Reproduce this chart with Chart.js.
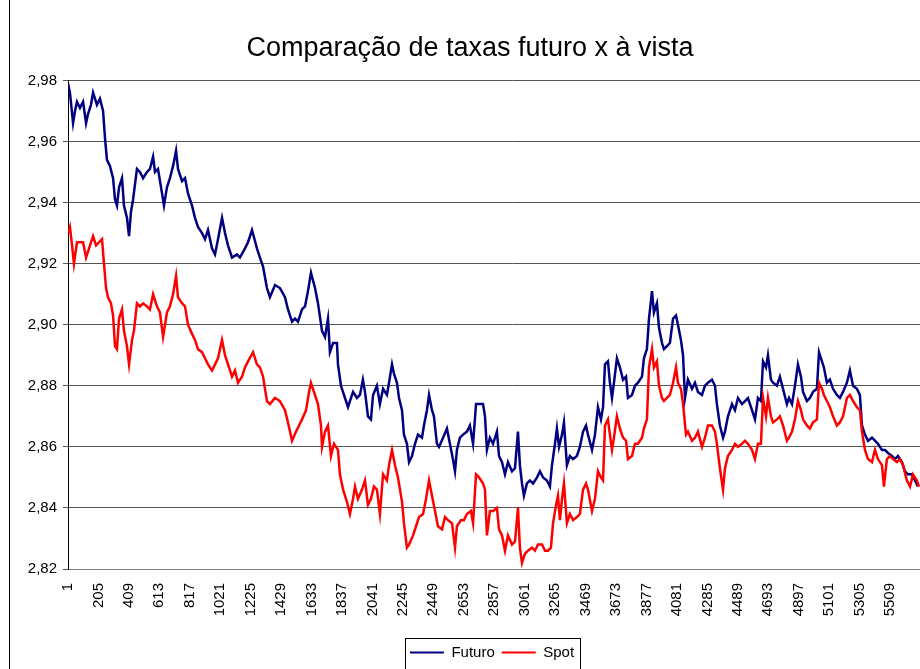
<!DOCTYPE html>
<html>
<head>
<meta charset="utf-8">
<script src="https://cdn.jsdelivr.net/npm/chart.js@4.4.1/dist/chart.umd.min.js"></script>
<style>
  html, body { margin: 0; padding: 0; background: #fff; overflow: hidden; }
  body { width: 920px; height: 669px; position: relative; }
  #wrap { position: absolute; left: 0; top: 0; width: 956px; height: 700px; }
  #frame { position: absolute; left: 9px; top: 0; width: 0; height: 669px; border-left: 1px solid #000; }
</style>
</head>
<body>
<div id="wrap"><canvas id="chart"></canvas></div>
<div id="frame"></div>
<script>
const futuroIdx = [1, 14, 35, 48, 61, 81, 102, 122, 135, 155, 169, 195, 215, 236, 249, 262, 282, 303, 316, 329,
  343, 363, 376, 396, 410, 423, 437, 463, 483, 504, 530, 550, 571, 584, 604, 631, 644, 664, 684, 705,
  725, 738, 765, 785, 805, 832, 852, 872, 899, 919, 939, 966, 986, 1006, 1033, 1053, 1073, 1100, 1133, 1153,
  1187, 1207, 1234, 1267, 1287, 1308, 1334, 1354, 1388, 1421, 1455, 1475, 1502, 1522, 1542, 1569, 1589, 1609, 1629, 1656,
  1676, 1703, 1723, 1743, 1756, 1777, 1803, 1810, 1830, 1857, 1877, 1890, 1911, 1937, 1957, 1977, 1991, 2011, 2031, 2045,
  2071, 2091, 2112, 2138, 2152, 2172, 2185, 2205, 2219, 2239, 2252, 2272, 2286, 2306, 2326, 2346, 2373, 2386, 2406, 2420,
  2440, 2453, 2473, 2487, 2514, 2540, 2560, 2580, 2594, 2607, 2627, 2648, 2674, 2694, 2715, 2735, 2755, 2782, 2795, 2808,
  2828, 2849, 2875, 2889, 2909, 2929, 2949, 2976, 2996, 3016, 3029, 3043, 3056, 3076, 3096, 3117, 3144, 3163, 3184, 3210,
  3230, 3244, 3264, 3277, 3291, 3311, 3324, 3344, 3364, 3385, 3411, 3431, 3452, 3472, 3485, 3512, 3532, 3552, 3572, 3586,
  3599, 3619, 3632, 3646, 3659, 3679, 3699, 3720, 3740, 3753, 3780, 3800, 3820, 3847, 3860, 3880, 3894, 3914, 3927, 3947,
  3961, 3981, 3994, 4014, 4034, 4055, 4075, 4088, 4108, 4122, 4135, 4155, 4182, 4202, 4222, 4249, 4269, 4289, 4316, 4336,
  4349, 4369, 4390, 4403, 4423, 4450, 4470, 4490, 4517, 4537, 4557, 4584, 4604, 4624, 4644, 4658, 4678, 4691, 4711, 4725,
  4751, 4771, 4792, 4818, 4832, 4852, 4872, 4892, 4912, 4926, 4952, 4972, 4993, 5019, 5033, 5053, 5066, 5086, 5106, 5127,
  5153, 5173, 5194, 5220, 5240, 5261, 5287, 5307, 5321, 5341, 5361, 5388, 5408, 5428, 5455, 5475, 5495, 5522, 5542, 5562,
  5589, 5609, 5629, 5656, 5676, 5696];
const futuroVal = [2.979, 2.976, 2.966, 2.970, 2.973, 2.971, 2.973, 2.966, 2.969, 2.972, 2.976, 2.972, 2.974, 2.970, 2.961, 2.954, 2.952, 2.948, 2.941, 2.939,
  2.945, 2.948, 2.939, 2.935, 2.929, 2.937, 2.941, 2.951, 2.950, 2.948, 2.950, 2.951, 2.955, 2.950, 2.951, 2.943, 2.939, 2.945, 2.948, 2.952,
  2.957, 2.951, 2.947, 2.948, 2.943, 2.939, 2.935, 2.932, 2.930, 2.928, 2.931, 2.925, 2.923, 2.928, 2.935, 2.930, 2.926, 2.922, 2.923, 2.922,
  2.925, 2.927, 2.931, 2.925, 2.922, 2.919, 2.912, 2.909, 2.913, 2.912, 2.909, 2.905, 2.901, 2.902, 2.901, 2.905, 2.906, 2.911, 2.917, 2.912,
  2.907, 2.898, 2.896, 2.902, 2.891, 2.894, 2.894, 2.887, 2.880, 2.876, 2.873, 2.875, 2.878, 2.876, 2.877, 2.882, 2.878, 2.870, 2.869, 2.877,
  2.880, 2.874, 2.879, 2.877, 2.881, 2.887, 2.884, 2.881, 2.876, 2.872, 2.864, 2.861, 2.855, 2.857, 2.861, 2.864, 2.863, 2.867, 2.872, 2.877,
  2.872, 2.870, 2.861, 2.860, 2.863, 2.866, 2.861, 2.856, 2.852, 2.859, 2.863, 2.864, 2.865, 2.867, 2.861, 2.874, 2.874, 2.874, 2.870, 2.859,
  2.863, 2.861, 2.865, 2.857, 2.855, 2.851, 2.855, 2.852, 2.853, 2.865, 2.854, 2.848, 2.844, 2.848, 2.849, 2.848, 2.850, 2.852, 2.850, 2.849,
  2.847, 2.854, 2.861, 2.866, 2.860, 2.864, 2.868, 2.854, 2.857, 2.856, 2.857, 2.860, 2.865, 2.867, 2.864, 2.859, 2.864, 2.873, 2.869, 2.873,
  2.887, 2.888, 2.881, 2.876, 2.881, 2.889, 2.886, 2.882, 2.883, 2.876, 2.877, 2.880, 2.881, 2.883, 2.889, 2.892, 2.902, 2.911, 2.904, 2.907,
  2.899, 2.894, 2.892, 2.893, 2.894, 2.902, 2.903, 2.900, 2.895, 2.890, 2.876, 2.882, 2.879, 2.881, 2.878, 2.877, 2.880, 2.881, 2.882, 2.880,
  2.874, 2.867, 2.863, 2.865, 2.870, 2.874, 2.872, 2.876, 2.874, 2.875, 2.876, 2.872, 2.869, 2.876, 2.875, 2.888, 2.886, 2.890, 2.882, 2.881,
  2.880, 2.883, 2.879, 2.874, 2.876, 2.874, 2.880, 2.887, 2.883, 2.878, 2.875, 2.876, 2.878, 2.879, 2.891, 2.888, 2.886, 2.881, 2.882, 2.879,
  2.877, 2.876, 2.878, 2.881, 2.885, 2.880, 2.879, 2.877, 2.867, 2.864, 2.862, 2.863, 2.862, 2.861, 2.859, 2.859, 2.858, 2.857, 2.856, 2.857,
  2.855, 2.852, 2.851, 2.851, 2.849, 2.847];

const spotIdx = [1, 14, 28, 41, 61, 81, 102, 122, 142, 169, 189, 209, 229, 242, 256, 269, 289, 303, 316, 329,
  343, 363, 376, 396, 410, 430, 443, 463, 483, 504, 530, 550, 571, 597, 617, 638, 664, 684, 705, 725,
  738, 765, 785, 805, 832, 852, 872, 899, 919, 939, 966, 986, 1006, 1033, 1053, 1073, 1100, 1120, 1140, 1167,
  1187, 1207, 1241, 1267, 1287, 1308, 1334, 1354, 1388, 1421, 1455, 1475, 1502, 1529, 1549, 1569, 1596, 1616, 1629, 1649,
  1676, 1696, 1703, 1723, 1743, 1763, 1783, 1810, 1823, 1844, 1870, 1890, 1911, 1924, 1944, 1971, 1991, 2011, 2031, 2051,
  2071, 2091, 2112, 2138, 2152, 2172, 2192, 2212, 2239, 2252, 2272, 2286, 2313, 2333, 2353, 2380, 2400, 2420, 2440, 2460,
  2480, 2507, 2527, 2547, 2574, 2594, 2607, 2634, 2654, 2674, 2701, 2715, 2735, 2755, 2782, 2795, 2808, 2828, 2849, 2875,
  2889, 2909, 2929, 2949, 2976, 2996, 3016, 3029, 3043, 3063, 3083, 3110, 3130, 3150, 3177, 3197, 3217, 3237, 3251, 3271,
  3284, 3297, 3311, 3324, 3344, 3364, 3385, 3411, 3431, 3452, 3472, 3485, 3512, 3532, 3552, 3572, 3586, 3599, 3619, 3632,
  3646, 3659, 3679, 3699, 3720, 3740, 3753, 3780, 3800, 3820, 3847, 3860, 3880, 3894, 3914, 3927, 3947, 3961, 3981, 3994,
  4014, 4034, 4055, 4075, 4088, 4108, 4122, 4142, 4155, 4182, 4202, 4222, 4249, 4269, 4289, 4316, 4336, 4349, 4369, 4390,
  4403, 4423, 4450, 4470, 4490, 4517, 4537, 4557, 4584, 4604, 4624, 4644, 4658, 4678, 4691, 4711, 4725, 4751, 4771, 4792,
  4818, 4832, 4852, 4872, 4892, 4912, 4926, 4952, 4972, 4993, 5019, 5033, 5053, 5066, 5086, 5106, 5127, 5153, 5173, 5194,
  5220, 5240, 5261, 5287, 5307, 5321, 5341, 5361, 5388, 5408, 5428, 5455, 5468, 5488, 5508, 5529, 5555, 5575, 5596, 5622,
  5643, 5663, 5689, 5703];
const spotVal = [2.930, 2.932, 2.926, 2.920, 2.927, 2.927, 2.927, 2.922, 2.925, 2.929, 2.926, 2.927, 2.928, 2.920, 2.912, 2.909, 2.907, 2.903, 2.893, 2.892,
  2.902, 2.905, 2.898, 2.893, 2.887, 2.895, 2.898, 2.907, 2.906, 2.907, 2.906, 2.905, 2.910, 2.906, 2.904, 2.896, 2.904, 2.906, 2.910, 2.916,
  2.909, 2.907, 2.906, 2.900, 2.897, 2.895, 2.892, 2.891, 2.889, 2.887, 2.885, 2.887, 2.889, 2.895, 2.890, 2.887, 2.883, 2.885, 2.881, 2.883,
  2.886, 2.888, 2.891, 2.887, 2.886, 2.883, 2.875, 2.874, 2.876, 2.875, 2.872, 2.868, 2.862, 2.865, 2.867, 2.869, 2.872, 2.878, 2.881, 2.878,
  2.874, 2.867, 2.860, 2.865, 2.867, 2.857, 2.861, 2.859, 2.851, 2.846, 2.842, 2.838, 2.843, 2.847, 2.843, 2.846, 2.849, 2.841, 2.843, 2.847,
  2.846, 2.838, 2.851, 2.849, 2.854, 2.859, 2.854, 2.850, 2.842, 2.835, 2.827, 2.828, 2.831, 2.834, 2.837, 2.838, 2.843, 2.849, 2.844, 2.839,
  2.834, 2.833, 2.837, 2.836, 2.835, 2.827, 2.834, 2.836, 2.836, 2.838, 2.839, 2.835, 2.851, 2.850, 2.848, 2.846, 2.831, 2.839, 2.839, 2.840,
  2.833, 2.831, 2.826, 2.831, 2.828, 2.829, 2.840, 2.827, 2.822, 2.825, 2.826, 2.827, 2.826, 2.828, 2.828, 2.826, 2.826, 2.827, 2.835, 2.841,
  2.844, 2.836, 2.843, 2.848, 2.835, 2.838, 2.836, 2.837, 2.838, 2.846, 2.848, 2.846, 2.839, 2.843, 2.852, 2.850, 2.849, 2.867, 2.869, 2.864,
  2.859, 2.863, 2.870, 2.866, 2.863, 2.862, 2.856, 2.857, 2.861, 2.861, 2.863, 2.866, 2.869, 2.886, 2.892, 2.886, 2.888, 2.880, 2.876, 2.875,
  2.876, 2.877, 2.881, 2.886, 2.881, 2.879, 2.874, 2.864, 2.865, 2.862, 2.863, 2.865, 2.860, 2.863, 2.867, 2.867, 2.865, 2.861, 2.853, 2.846,
  2.853, 2.857, 2.859, 2.861, 2.860, 2.861, 2.862, 2.861, 2.859, 2.856, 2.861, 2.861, 2.876, 2.870, 2.876, 2.870, 2.868, 2.869, 2.870, 2.867,
  2.862, 2.863, 2.865, 2.869, 2.875, 2.872, 2.869, 2.867, 2.866, 2.868, 2.869, 2.881, 2.879, 2.877, 2.875, 2.873, 2.870, 2.867, 2.868, 2.870,
  2.876, 2.877, 2.875, 2.873, 2.872, 2.865, 2.859, 2.856, 2.855, 2.859, 2.856, 2.854, 2.847, 2.856, 2.857, 2.856, 2.855, 2.856, 2.854, 2.849,
  2.847, 2.851, 2.849, 2.847];

const xTickLabels = [1, 205, 409, 613, 817, 1021, 1225, 1429, 1633, 1837, 2041, 2245, 2449, 2653,
  2857, 3061, 3265, 3469, 3673, 3877, 4081, 4285, 4489, 4693, 4897, 5101, 5305, 5509];
const yTicks = [2.82, 2.84, 2.86, 2.88, 2.90, 2.92, 2.94, 2.96, 2.98];

const FONT = "'Liberation Sans', Arial, sans-serif";
Chart.defaults.font.family = FONT;
Chart.defaults.color = '#000';

function toPoints(xs, ys) {
  return xs.map((x, i) => ({ x: x, y: ys[i] }));
}

// Excel puts title and legend at their own spots, so move them after layout
const placeBoxes = {
  id: 'placeBoxes',
  afterLayout(chart) {
    const t = chart.titleBlock;
    const tw = t.right - t.left;
    t.left = 470 - tw / 2;
    t.right = 470 + tw / 2;
    const l = chart.legend;
    const lw = l.right - l.left;
    l.left = 492 - lw / 2;
    l.right = 492 + lw / 2;
  },
  afterDraw(chart) {
    // box round the legend
    const boxes = chart.legend.legendHitBoxes;
    if (!boxes || !boxes.length) return;
    const first = boxes[0];
    const last = boxes[boxes.length - 1];
    const ctx = chart.ctx;
    ctx.save();
    ctx.strokeStyle = '#000';
    ctx.lineWidth = 1;
    const left = Math.round(first.left - 5) + 0.5;
    const right = Math.round(last.left + last.width + 6) + 0.5;
    const top = Math.round(first.top - 7) + 0.5;
    ctx.strokeRect(left, top, right - left, 40);
    ctx.restore();
  }
};

new Chart(document.getElementById('chart'), {
  type: 'line',
  data: {
    datasets: [{
      label: 'Futuro',
      data: toPoints(futuroIdx, futuroVal),
      borderColor: '#000080',
      backgroundColor: '#000080',
      borderWidth: 2.5,
      pointRadius: 0,
      tension: 0,
      order: 1
    }, {
      label: 'Spot',
      data: toPoints(spotIdx, spotVal),
      borderColor: '#ff0000',
      backgroundColor: '#ff0000',
      borderWidth: 2.5,
      pointRadius: 0,
      tension: 0,
      order: 0
    }]
  },
  options: {
    responsive: true,
    maintainAspectRatio: false,
    animation: false,
    parsing: false,
    layout: { padding: { left: 12, right: 0, top: 0, bottom: 30 } },
    scales: {
      x: {
        type: 'linear',
        min: 1,
        max: 5951,
        afterBuildTicks: (axis) => { axis.ticks = xTickLabels.map(v => ({ value: v })); },
        afterFit: (axis) => { axis.height = 69; },
        grid: { display: false, drawTicks: false },
        border: { display: true, color: '#808080', width: 1 },
        ticks: {
          autoSkip: false,
          minRotation: 90,
          maxRotation: 90,
          padding: 14,
          font: { size: 15 },
          color: '#000',
          callback: (v) => String(v)
        }
      },
      y: {
        min: 2.82,
        max: 2.98,
        afterBuildTicks: (axis) => { axis.ticks = yTicks.map(v => ({ value: v })); },
        afterFit: (axis) => { axis.width = 56; },
        grid: { color: '#555', lineWidth: 1, tickLength: 5, drawTicks: true },
        border: { display: true, color: '#000', width: 1 },
        ticks: {
          padding: 6,
          font: { size: 15 },
          color: '#000',
          callback: (v) => v.toFixed(2).replace('.', ',')
        }
      }
    },
    plugins: {
      title: {
        display: true,
        text: 'Comparação de taxas futuro x à vista',
        color: '#000',
        font: { size: 27, weight: 'normal' },
        padding: { top: 32, bottom: 16 }
      },
      legend: {
        display: true,
        position: 'bottom',
        labels: {
          usePointStyle: true,
          pointStyle: 'line',
          pointStyleWidth: 34,
          padding: 7,
          font: { size: 15 },
          color: '#000',
          sort: (a, b) => a.datasetIndex - b.datasetIndex,
          generateLabels: (chart) => Chart.defaults.plugins.legend.labels.generateLabels(chart)
            .map(l => Object.assign(l, { lineWidth: 2, pointStyle: 'line' }))
        }
      },
      tooltip: { enabled: false }
    }
  },
  plugins: [placeBoxes]
});
</script>
</body>
</html>
